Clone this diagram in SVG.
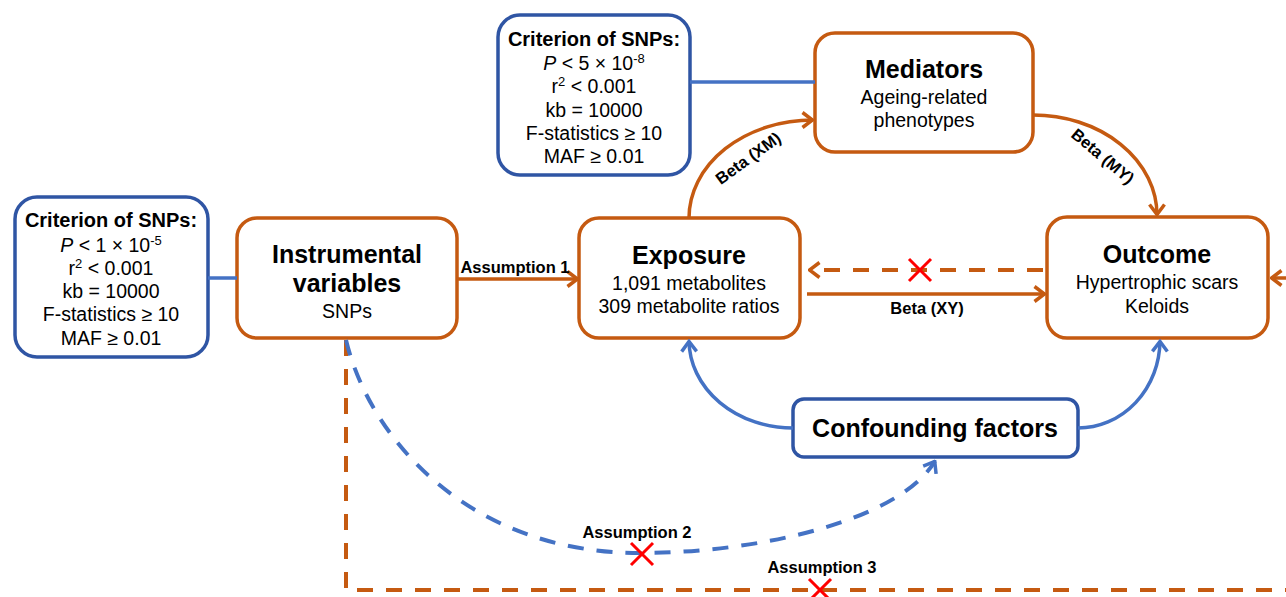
<svg xmlns="http://www.w3.org/2000/svg" width="1286" height="597" viewBox="0 0 1286 597">
<style>
text{font-family:"Liberation Sans",Arial,sans-serif;fill:#000;text-anchor:middle}
.t{font-size:25px;font-weight:bold}
.s{font-size:19.5px}
.h{font-size:20px;font-weight:bold}
.l{font-size:16.5px;font-weight:bold}
.sup{font-size:13px}
.ob{fill:#fff;stroke:#C55A11;stroke-width:3.5}
.bb{fill:#fff;stroke:#2F55A4;stroke-width:3.5}
.oc{fill:none;stroke:#C55A11;stroke-width:3.5}
.bc{fill:none;stroke:#4472C4;stroke-width:3.5}
.od{fill:none;stroke:#C55A11;stroke-width:4;stroke-dasharray:16 13}
.bd{fill:none;stroke:#4472C4;stroke-width:4;stroke-dasharray:16 13}
.x{stroke:#FF0000;stroke-width:3}
</style>
<defs>
<marker id="ao" viewBox="0 0 14 18" refX="12.5" refY="9" markerWidth="14" markerHeight="18" markerUnits="userSpaceOnUse" orient="auto"><path d="M2,1.5 L12,9 L2,16.5" fill="none" stroke="#C55A11" stroke-width="3.5"/></marker>
<marker id="ab" viewBox="0 0 14 18" refX="12.5" refY="9" markerWidth="14" markerHeight="18" markerUnits="userSpaceOnUse" orient="auto"><path d="M2,1.5 L12,9 L2,16.5" fill="none" stroke="#4472C4" stroke-width="3.5"/></marker>
</defs>

<g id="criterion-left">
<rect class="bb" x="15" y="197" width="193" height="160" rx="22"/>
<text class="h" x="111" y="227">Criterion of SNPs:</text>
<text class="s" x="111" y="252"><tspan font-style="italic">P</tspan> &lt; 1 × 10<tspan class="sup" dy="-7">-5</tspan></text>
<text class="s" x="111" y="275">r<tspan class="sup" dy="-7">2</tspan><tspan dy="7"> &lt; 0.001</tspan></text>
<text class="s" x="111" y="298">kb = 10000</text>
<text class="s" x="111" y="321">F-statistics ≥ 10</text>
<text class="s" x="111" y="345">MAF ≥ 0.01</text>
</g>

<g id="criterion-top">
<rect class="bb" x="498" y="15" width="192" height="160" rx="22"/>
<text class="h" x="594" y="46">Criterion of SNPs:</text>
<text class="s" x="594" y="70"><tspan font-style="italic">P</tspan> &lt; 5 × 10<tspan class="sup" dy="-7">-8</tspan></text>
<text class="s" x="594" y="93">r<tspan class="sup" dy="-7">2</tspan><tspan dy="7"> &lt; 0.001</tspan></text>
<text class="s" x="594" y="117">kb = 10000</text>
<text class="s" x="594" y="140">F-statistics ≥ 10</text>
<text class="s" x="594" y="163">MAF ≥ 0.01</text>
</g>

<g id="instrumental">
<rect class="ob" x="237" y="218" width="220" height="120" rx="20"/>
<text class="t" x="347" y="263">Instrumental</text>
<text class="t" x="347" y="292">variables</text>
<text class="s" x="347" y="318">SNPs</text>
</g>

<g id="exposure">
<rect class="ob" x="579" y="218" width="221" height="120" rx="20"/>
<text class="t" x="689" y="264">Exposure</text>
<text class="s" x="689" y="290">1,091 metabolites</text>
<text class="s" x="689" y="313">309 metabolite ratios</text>
</g>

<g id="mediators">
<rect class="ob" x="815" y="33" width="218" height="119" rx="20"/>
<text class="t" x="924" y="78">Mediators</text>
<text class="s" x="924" y="104">Ageing-related</text>
<text class="s" x="924" y="127">phenotypes</text>
</g>

<g id="outcome">
<rect class="ob" x="1047" y="217" width="221" height="121" rx="20"/>
<text class="t" x="1157" y="263">Outcome</text>
<text class="s" x="1157" y="289">Hypertrophic scars</text>
<text class="s" x="1157" y="313">Keloids</text>
</g>

<g id="confounding">
<rect class="bb" x="793" y="399" width="285" height="58" rx="11"/>
<text class="t" x="935" y="437">Confounding factors</text>
</g>

<g id="connectors">
<path class="bc" d="M208,278 L237,278"/>
<path class="bc" d="M690,82 L815,82"/>
<path class="oc" d="M457,279 L578,279" marker-end="url(#ao)"/>
<text class="l" x="515" y="273">Assumption 1</text>
<path class="oc" d="M689,218 A124,98 0 0 1 813,120" marker-end="url(#ao)"/>
<text class="l" transform="translate(748,158) rotate(-36)" y="6">Beta (XM)</text>
<path class="oc" d="M1033,115 A124,100 0 0 1 1157,215" marker-end="url(#ao)"/>
<text class="l" transform="translate(1103,156) rotate(40)" y="6">Beta (MY)</text>
<path class="od" d="M1043,270 L809,270" marker-end="url(#ao)"/>
<path class="x" d="M909,259 L931,281 M931,259 L909,281"/>
<path class="oc" d="M807,294 L1045,294" marker-end="url(#ao)"/>
<text class="l" x="927" y="314">Beta (XY)</text>
<path class="bc" d="M793,428 A104,88 0 0 1 689,341" marker-end="url(#ab)"/>
<path class="bc" d="M1078,428 A82,88 0 0 0 1160,341" marker-end="url(#ab)"/>
<path class="od" d="M346,340 L346,590 L1290,590"/>
<path class="bd" d="M346,340 C370,440 470,553 640,553 C760,553 900,520 935,461" marker-end="url(#ab)"/>
<path class="x" d="M631,543 L653,565 M653,543 L631,565"/>
<text class="l" x="637" y="538">Assumption 2</text>
<path class="x" d="M809,579 L831,601 M831,579 L809,601"/>
<text class="l" x="822" y="573">Assumption 3</text>
<path class="oc" d="M1292,278 L1271,278" marker-end="url(#ao)"/>
</g>
</svg>
